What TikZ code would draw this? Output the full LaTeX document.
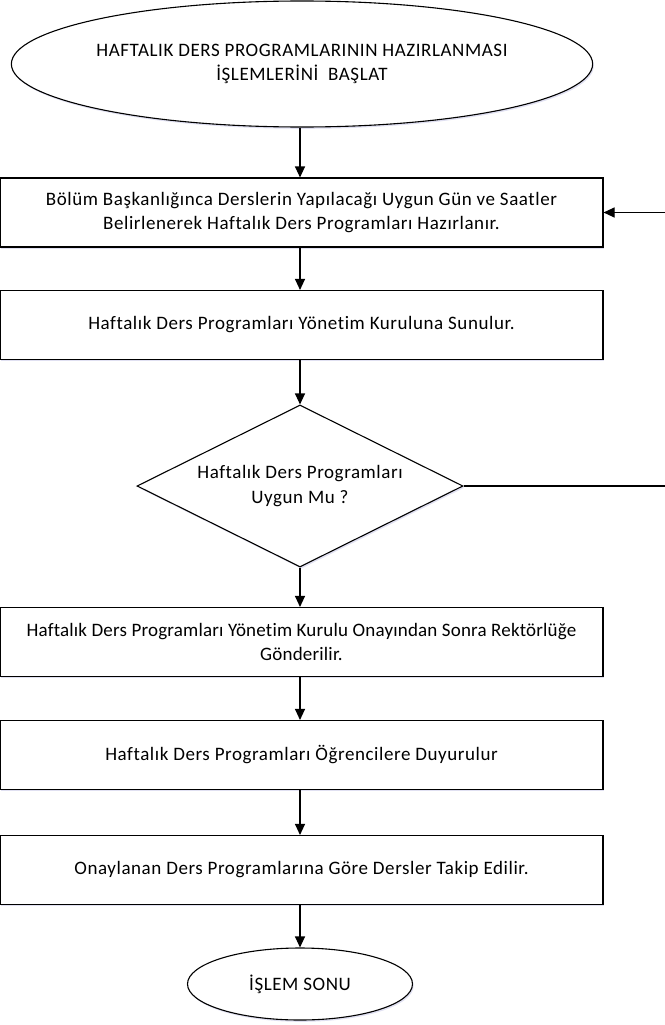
\documentclass[tikz,border=0pt]{standalone}
\usepackage{fontspec}
\setmainfont{Carlito}[LetterSpace=3,Ligatures={NoCommon}]
\usetikzlibrary{shapes.geometric,arrows.meta,shadows}
\begin{document}
\begin{tikzpicture}[x=1pt,y=-1pt,
  shp/.style={draw, line width=1.1pt, fill=white, align=center, inner sep=0pt,
    font=\fontsize{19}{24.5}\selectfont,
    drop shadow={shadow xshift=1.2pt, shadow yshift=-1.8pt, opacity=0.25, fill=blue!40!gray!70}},
  stepbox/.style={shp, rectangle, minimum width=603pt, minimum height=69pt},
  oval/.style={shp, ellipse},
  decide/.style={shp, diamond, minimum width=326pt, minimum height=162pt, aspect=2.01},
  arr/.style={line width=1.1pt, -{Triangle[length=11pt,width=10pt]}},
  ln/.style={line width=1.1pt}]
\useasboundingbox (0,0) rectangle (664,1025);
\node[oval, minimum width=580pt, minimum height=126pt] (start) at (302,64)
  {HAFTALIK DERS PROGRAMLARININ HAZIRLANMASI\\İŞLEMLERİNİ~~BAŞLAT};
\node[stepbox] (b1) at (301.5,212.5)
  {Bölüm Başkanlığınca Derslerin Yapılacağı Uygun Gün ve Saatler\\Belirlenerek Haftalık Ders Programları Hazırlanır.};
\node[stepbox] (b2) at (301.5,325)
  {Haftalık Ders Programları Yönetim Kuruluna Sunulur.};
\node[decide] (dec) at (300,486)
  {Haftalık Ders Programları\\Uygun Mu ?};
\node[stepbox, font=\fontsize{19}{24.5}\selectfont\addfontfeature{LetterSpace=1}] (b3) at (301.5,642)
  {Haftalık Ders Programları Yönetim Kurulu Onayından Sonra Rektörlüğe\\Gönderilir.};
\node[stepbox] (b4) at (301.5,755)
  {Haftalık Ders Programları Öğrencilere Duyurulur};
\node[stepbox] (b5) at (301.5,870)
  {Onaylanan Ders Programlarına Göre Dersler Takip Edilir.};
\node[oval, minimum width=225pt, minimum height=72pt] (end) at (300,984)
  {İŞLEM SONU};
\coordinate (c0) at (300,0);
\draw[arr] (c0 |- start.south) -- (c0 |- b1.north);
\draw[arr] (c0 |- b1.south) -- (c0 |- b2.north);
\draw[arr] (c0 |- b2.south) -- (dec.north);
\draw[arr] (dec.south) -- (c0 |- b3.north);
\draw[arr] (c0 |- b3.south) -- (c0 |- b4.north);
\draw[arr] (c0 |- b4.south) -- (c0 |- b5.north);
\draw[arr] (c0 |- b5.south) -- (end.north);
\coordinate (rt) at (667,0);
\draw[arr] (dec.east) -- (rt |- dec.east) -- (rt |- b1.east) -- (b1.east);
\end{tikzpicture}
\end{document}
